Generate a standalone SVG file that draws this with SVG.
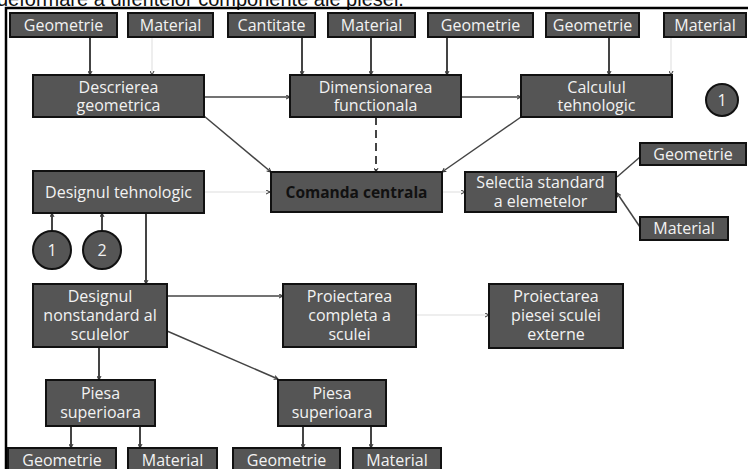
<svg xmlns="http://www.w3.org/2000/svg" width="748" height="469" viewBox="0 0 748 469">
<defs>
<style>
.n{fill:#555555;stroke:#111111;stroke-width:2}
.t{font-family:"Open Sans","Liberation Sans",sans-serif;font-size:16px;fill:#f2f2f2;text-anchor:middle}
.b{font-family:"Open Sans","Liberation Sans",sans-serif;font-size:15.5px;font-weight:bold;fill:#111111;text-anchor:middle}
.c{stroke:#444444;stroke-width:2;fill:none}
.d{stroke:#444444;stroke-width:1.5;fill:none}
.f{stroke:#dddddd;stroke-width:1;fill:none}
</style>
<marker id="ah" viewBox="0 0 10 10" refX="9" refY="5" markerWidth="5" markerHeight="5" markerUnits="userSpaceOnUse" orient="auto">
<path d="M1,1 L9,5 L1,9" fill="none" stroke="#333333" stroke-width="2"/>
</marker>
</defs>
<rect width="748" height="469" fill="#ffffff"/>
<text x="-3" y="6" font-family="'Liberation Sans',Arial,sans-serif" font-size="20" fill="#111111">deformare a diferitelor componente ale piesei.</text>
<path d="M6,469 V8 H748" fill="none" stroke="#000000" stroke-width="2.5"/>

<g id="connectors">
<line class="c" x1="90" y1="37" x2="90" y2="75" marker-end="url(#ah)"/>
<line class="f" x1="152" y1="37" x2="152" y2="75" marker-end="url(#ah)"/>
<line class="c" x1="302" y1="37" x2="302" y2="75" marker-end="url(#ah)"/>
<line class="c" x1="371" y1="37" x2="371" y2="75" marker-end="url(#ah)"/>
<line class="c" x1="447" y1="37" x2="447" y2="75" marker-end="url(#ah)"/>
<line class="c" x1="609" y1="37" x2="609" y2="75" marker-end="url(#ah)"/>
<line class="f" x1="671" y1="37" x2="671" y2="75" marker-end="url(#ah)"/>
<line class="d" x1="204" y1="97" x2="290" y2="97" marker-end="url(#ah)"/>
<line class="d" x1="461" y1="97" x2="521" y2="97" marker-end="url(#ah)"/>
<line class="d" x1="204" y1="116" x2="271" y2="172" marker-end="url(#ah)"/>
<line class="c" x1="376" y1="117" x2="376" y2="172" stroke-dasharray="8,5" marker-end="url(#ah)"/>
<line class="d" x1="521" y1="117" x2="442" y2="172" marker-end="url(#ah)"/>
<line class="f" x1="204" y1="192" x2="270" y2="192" marker-end="url(#ah)"/>
<line class="f" x1="442" y1="192" x2="465" y2="192" marker-end="url(#ah)"/>
<line class="d" x1="640" y1="157" x2="617" y2="177"/>
<line class="d" x1="640" y1="227" x2="617" y2="193" marker-end="url(#ah)"/>
<line class="c" x1="52" y1="231" x2="52" y2="213" marker-end="url(#ah)"/>
<line class="c" x1="102" y1="231" x2="102" y2="213" marker-end="url(#ah)"/>
<line class="c" x1="146" y1="213" x2="146" y2="284" marker-end="url(#ah)"/>
<line class="d" x1="167" y1="296" x2="283" y2="296" marker-end="url(#ah)"/>
<line class="f" x1="416" y1="315" x2="489" y2="315" marker-end="url(#ah)"/>
<line class="d" x1="167" y1="331" x2="278" y2="379" marker-end="url(#ah)"/>
<line class="c" x1="99" y1="347" x2="99" y2="380" marker-end="url(#ah)"/>
<line class="c" x1="71" y1="426" x2="71" y2="448" marker-end="url(#ah)"/>
<line class="c" x1="140" y1="426" x2="140" y2="448" marker-end="url(#ah)"/>
<line class="c" x1="303" y1="426" x2="303" y2="448" marker-end="url(#ah)"/>
<line class="c" x1="371" y1="426" x2="371" y2="448" marker-end="url(#ah)"/>
</g>

<g id="in-geometrie-1"><rect class="n" x="10" y="13" width="107" height="24"/><text class="t" x="63.5" y="31">Geometrie</text></g>
<g id="in-material-1"><rect class="n" x="128" y="13" width="85" height="24"/><text class="t" x="170.5" y="31">Material</text></g>
<g id="in-cantitate"><rect class="n" x="228" y="13" width="87" height="24"/><text class="t" x="271.5" y="31">Cantitate</text></g>
<g id="in-material-2"><rect class="n" x="328" y="13" width="87" height="24"/><text class="t" x="371.5" y="31">Material</text></g>
<g id="in-geometrie-2"><rect class="n" x="428" y="13" width="105" height="24"/><text class="t" x="480.5" y="31">Geometrie</text></g>
<g id="in-geometrie-3"><rect class="n" x="546" y="13" width="93" height="24"/><text class="t" x="592.5" y="31">Geometrie</text></g>
<g id="in-material-3"><rect class="n" x="664" y="13" width="82" height="24"/><text class="t" x="705" y="31">Material</text></g>

<g id="descrierea"><rect class="n" x="33" y="75" width="171" height="42"/><text class="t" x="118.5" y="93">Descrierea</text><text class="t" x="118.5" y="111">geometrica</text></g>
<g id="dimensionarea"><rect class="n" x="290" y="75" width="171" height="42"/><text class="t" x="375.5" y="93">Dimensionarea</text><text class="t" x="375.5" y="111">functionala</text></g>
<g id="calculul"><rect class="n" x="521" y="75" width="151" height="42"/><text class="t" x="596.5" y="93">Calculul</text><text class="t" x="596.5" y="111">tehnologic</text></g>
<g id="ref-1-right"><circle class="n" cx="722" cy="100" r="16"/><text class="t" x="722" y="106">1</text></g>

<g id="designul-tehnologic"><rect class="n" x="33" y="171" width="171" height="42"/><text class="t" x="118.5" y="198">Designul tehnologic</text></g>
<g id="comanda"><rect class="n" x="271" y="172" width="171" height="40"/><text class="b" x="356.5" y="198">Comanda centrala</text></g>
<g id="selectia"><rect class="n" x="465" y="172" width="151" height="40"/><text class="t" x="540.5" y="188">Selectia standard</text><text class="t" x="540.5" y="207">a elemetelor</text></g>
<g id="sel-geometrie"><rect class="n" x="640" y="143" width="106" height="22"/><text class="t" x="693" y="160">Geometrie</text></g>
<g id="sel-material"><rect class="n" x="640" y="217" width="88" height="23"/><text class="t" x="684" y="234">Material</text></g>
<g id="ref-1"><circle class="n" cx="52" cy="250" r="19"/><text class="t" x="52" y="256">1</text></g>
<g id="ref-2"><circle class="n" cx="102" cy="250" r="19"/><text class="t" x="102" y="256">2</text></g>

<g id="designul-nonstandard"><rect class="n" x="33" y="284" width="134" height="63"/><text class="t" x="100" y="302">Designul</text><text class="t" x="100" y="321">nonstandard al</text><text class="t" x="100" y="340">sculelor</text></g>
<g id="proiectarea-completa"><rect class="n" x="283" y="284" width="133" height="63"/><text class="t" x="349.5" y="302">Proiectarea</text><text class="t" x="349.5" y="321">completa a</text><text class="t" x="349.5" y="340">sculei</text></g>
<g id="proiectarea-piesei"><rect class="n" x="489" y="284" width="134" height="64"/><text class="t" x="556" y="302">Proiectarea</text><text class="t" x="556" y="321">piesei sculei</text><text class="t" x="556" y="340">externe</text></g>

<g id="piesa-1"><rect class="n" x="46" y="380" width="109" height="46"/><text class="t" x="100.5" y="399">Piesa</text><text class="t" x="100.5" y="418">superioara</text></g>
<g id="piesa-2"><rect class="n" x="278" y="380" width="108" height="46"/><text class="t" x="332" y="399">Piesa</text><text class="t" x="332" y="418">superioara</text></g>

<g id="out-geometrie-1"><rect class="n" x="8" y="448" width="108" height="30"/><text class="t" x="62" y="466">Geometrie</text></g>
<g id="out-material-1"><rect class="n" x="128" y="448" width="89" height="30"/><text class="t" x="172.5" y="466">Material</text></g>
<g id="out-geometrie-2"><rect class="n" x="233" y="448" width="107" height="30"/><text class="t" x="286.5" y="466">Geometrie</text></g>
<g id="out-material-2"><rect class="n" x="353" y="448" width="88" height="30"/><text class="t" x="397" y="466">Material</text></g>
</svg>
